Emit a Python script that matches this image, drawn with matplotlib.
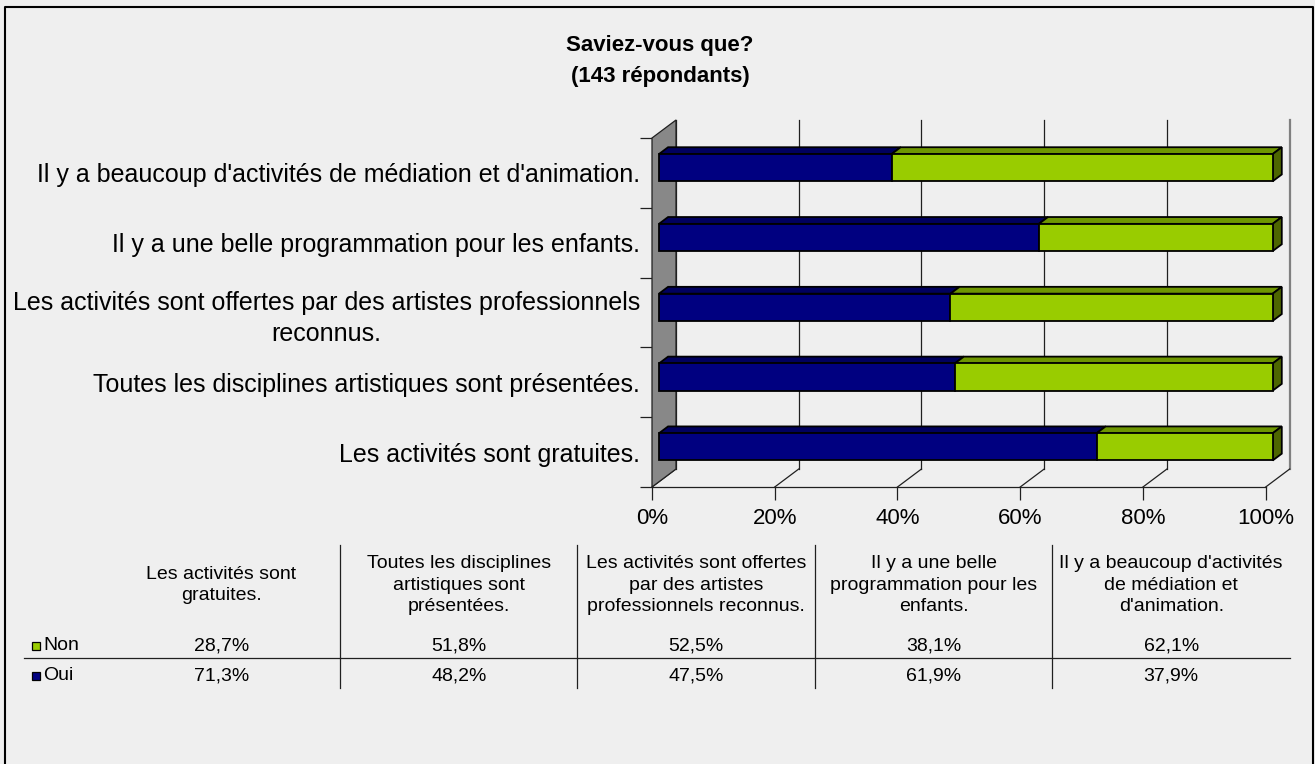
import matplotlib
matplotlib.use("Agg")
import matplotlib.pyplot as plt
from matplotlib.patches import Polygon, Rectangle
from matplotlib.lines import Line2D

plt.rcParams['font.family'] = ['Liberation Sans', 'DejaVu Sans']

# data (bottom to top in the chart, left to right in the table)
categories = [
    "Les activités sont gratuites.",
    "Toutes les disciplines artistiques sont présentées.",
    "Les activités sont offertes par des artistes professionnels\nreconnus.",
    "Il y a une belle programmation pour les enfants.",
    "Il y a beaucoup d'activités de médiation et d'animation.",
]
table_headers = [
    "Les activités sont\ngratuites.",
    "Toutes les disciplines\nartistiques sont\nprésentées.",
    "Les activités sont offertes\npar des artistes\nprofessionnels reconnus.",
    "Il y a une belle\nprogrammation pour les\nenfants.",
    "Il y a beaucoup d'activités\nde médiation et\nd'animation.",
]
oui = [71.3, 48.2, 47.5, 61.9, 37.9]
non = [28.7, 51.8, 52.5, 38.1, 62.1]
xticks = [0, 20, 40, 60, 80, 100]

bg = '#EFEFEF'
blue, blue_top = '#000080', '#00005E'
green, green_top, green_side = '#99CC00', '#6E9600', '#4D6600'

W, H = 1315, 764
fig = plt.figure(figsize=(W / 100, H / 100), dpi=100, facecolor=bg)

# front floor plane: x 652..1265.7 px, y 138..487 px
ax_l, ax_r, ax_t, ax_b = 652, 1265.7, 138, 487
ax = fig.add_axes([ax_l / W, (H - ax_b) / H, (ax_r - ax_l) / W, (ax_b - ax_t) / H])
ax.set_facecolor('none')
ax.set_xlim(0, 100)
ax.set_ylim(-0.5, len(categories) - 0.5)

# depth offsets (24 px right, 18 px up) in data units
DX = 24 * 100 / (ax_r - ax_l)
DY = 18 * len(categories) / (ax_b - ax_t)
f_d, b_d = 0.29, 0.67
h = 0.39
ytop = len(categories) - 0.5

# back wall grid
for k in xticks:
    col = '#808080' if k == 100 else '#202020'
    lw = 1.6 if k == 100 else 0.9
    ax.add_line(Line2D([k + DX, k + DX], [-0.5 + DY, ytop + DY], color=col, lw=lw, clip_on=False, zorder=1))
    ax.add_line(Line2D([k, k + DX], [-0.5, -0.5 + DY], color='#202020', lw=0.9, clip_on=False, zorder=1))

# left wall
ax.add_patch(Polygon([(0, -0.5), (DX, -0.5 + DY), (DX, ytop + DY), (0, ytop)],
                     closed=True, facecolor='#888888', edgecolor='#202020', lw=0.9, clip_on=False, zorder=2))

# bars
for i in range(len(categories)):
    y0 = i - h / 2
    y1 = i + h / 2
    segs = [(0, oui[i], blue, blue_top), (oui[i], 100, green, green_top)]
    for a, b, c, ct in segs:
        ax.add_patch(Polygon([(a + f_d * DX, y1 + f_d * DY), (b + f_d * DX, y1 + f_d * DY),
                              (b + b_d * DX, y1 + b_d * DY), (a + b_d * DX, y1 + b_d * DY)],
                             closed=True, facecolor=ct, edgecolor='black', lw=1.3, clip_on=False, zorder=3))
    ax.barh(i + f_d * DY, oui[i], left=f_d * DX, height=h, color=blue, edgecolor='black', lw=1.3, zorder=4, clip_on=False)
    ax.barh(i + f_d * DY, non[i], left=oui[i] + f_d * DX, height=h, color=green, edgecolor='black', lw=1.3, zorder=4, clip_on=False)
    ax.add_patch(Polygon([(100 + f_d * DX, y0 + f_d * DY), (100 + f_d * DX, y1 + f_d * DY),
                          (100 + b_d * DX, y1 + b_d * DY), (100 + b_d * DX, y0 + b_d * DY)],
                         closed=True, facecolor=green_side, edgecolor='black', lw=1.3, clip_on=False, zorder=3))

# axes
for s in ['top', 'right', 'left']:
    ax.spines[s].set_visible(False)
ax.spines['bottom'].set_color('#202020')
ax.spines['bottom'].set_linewidth(0.9)
ax.spines['bottom'].set_zorder(1)
ax.set_xticks(xticks)
ax.set_xticklabels([f"{k}%" for k in xticks], fontsize=16)
ax.tick_params(axis='x', length=9, width=0.9, color='#202020', pad=6)
ax.set_yticks([k - 0.5 for k in range(len(categories) + 1)])
ax.set_yticklabels([])
ax.tick_params(axis='y', which='major', length=9, width=0.9, color='#202020')
ax.set_yticks(range(len(categories)), minor=True)
ax.set_yticklabels(categories, minor=True, fontsize=18, linespacing=1.38)
ax.tick_params(axis='y', which='minor', length=0, pad=8.5)
for lab in ax.get_yticklabels(minor=True):
    lab.set_multialignment('center')

# title
fig.text(660 / W, 1 - 61 / H, "Saviez-vous que?\n(143 répondants)", ha='center', va='center',
         fontsize=16, fontweight='bold', linespacing=1.63)

# data table
tax = fig.add_axes([0, 0, 1, 1])
tax.set_xlim(0, W)
tax.set_ylim(H, 0)
tax.axis('off')
tax.patch.set_alpha(0)
col0, colw = 102.5, 237.5
ncol = len(table_headers)
for j in range(1, ncol):
    x = col0 + j * colw
    tax.add_line(Line2D([x, x], [545, 688], color='#202020', lw=0.9))
tax.add_line(Line2D([24, col0 + ncol * colw], [658, 658], color='#202020', lw=0.9))
for j, hd in enumerate(table_headers):
    cx = col0 + (j + 0.5) * colw
    tax.text(cx, 585, hd, ha='center', va='center', fontsize=14, linespacing=1.36)
    tax.text(cx, 646, f"{non[j]:.1f}%".replace('.', ','), ha='center', va='center', fontsize=14)
    tax.text(cx, 676, f"{oui[j]:.1f}%".replace('.', ','), ha='center', va='center', fontsize=14)
for y, c, lab in [(646, green, 'Non'), (676, blue, 'Oui')]:
    tax.add_patch(Rectangle((32, y - 4), 8, 8, facecolor=c, edgecolor='black', lw=0.9))
    tax.text(43, y, lab, ha='left', va='center', fontsize=14)

# chart border
tax.add_line(Line2D([5.5, 5.5, 1313.5, 1313.5], [H + 5, 6.5, 6.5, H + 5], color='black', lw=1.5, clip_on=False))

fig.savefig('out.png', dpi=100, facecolor=bg)
